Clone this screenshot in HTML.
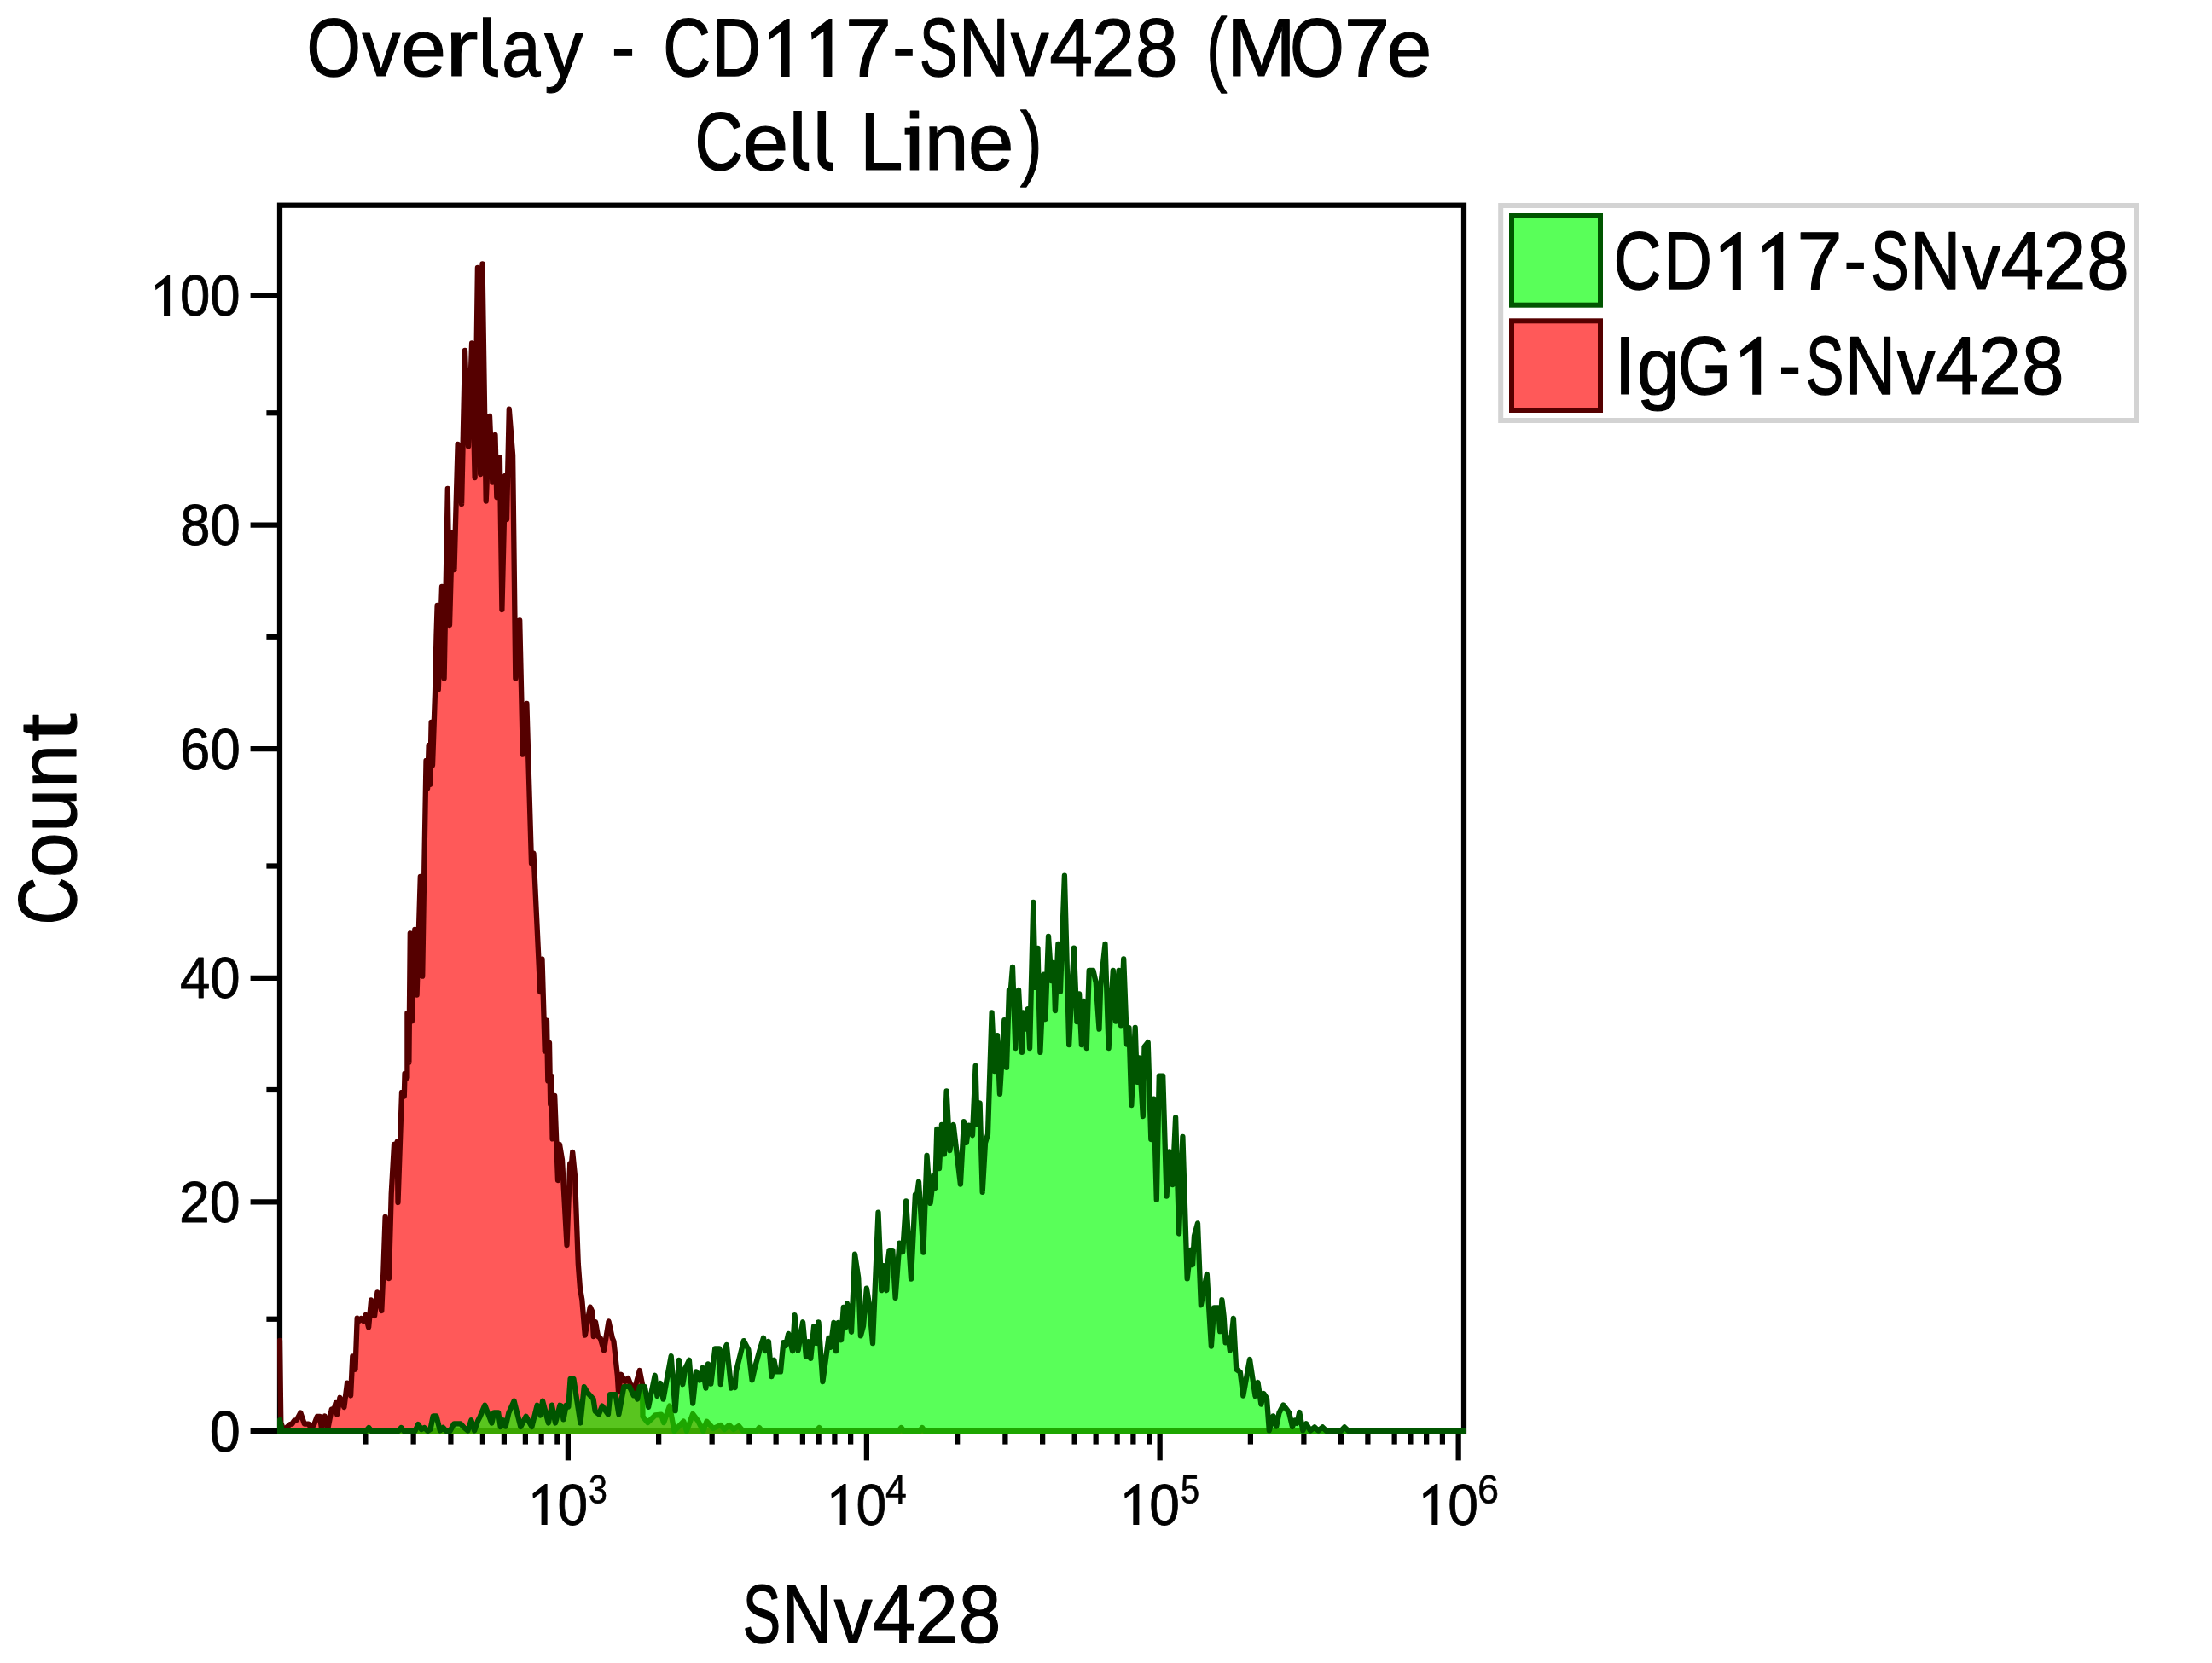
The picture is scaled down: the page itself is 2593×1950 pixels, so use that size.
<!DOCTYPE html>
<html><head><meta charset="utf-8"><title>Overlay - CD117-SNv428 (MO7e Cell Line)</title>
<style>
html,body{margin:0;padding:0;background:#fff;}
body{width:2593px;height:1950px;overflow:hidden;}
svg{display:block;}
text{font-family:"Liberation Sans",sans-serif;fill:#000;}
</style></head><body>
<svg width="2593" height="1950" viewBox="0 0 2593 1950">
<desc>Overlay - CD117-SNv428 (MO7e Cell Line). Histogram of Count versus SNv428 (log scale 10^3 to 10^6). Legend: CD117-SNv428 (green), IgG1-SNv428 (red).</desc>
<rect x="0" y="0" width="2593" height="1950" fill="#fff"/>
<defs><clipPath id="c"><rect x="324.9" y="237.6" width="1394.2" height="1443.5"/></clipPath></defs>
<g opacity="0.999">
<text font-size="97.1" transform="translate(359.52,89.40) scale(0.8408,1)" stroke="#000" stroke-width="1.2" vector-effect="non-scaling-stroke" stroke-linejoin="round">O</text>
<text font-size="94" transform="translate(424.46,89.40) scale(0.9570,1)" stroke="#000" stroke-width="1.2" vector-effect="non-scaling-stroke" stroke-linejoin="round">v</text>
<text font-size="94" transform="translate(469.61,89.40) scale(1.0237,1)" stroke="#000" stroke-width="1.2" vector-effect="non-scaling-stroke" stroke-linejoin="round">e</text>
<text font-size="94" transform="translate(521.63,89.40) scale(1.2426,1)" stroke="#000" stroke-width="1.2" vector-effect="non-scaling-stroke" stroke-linejoin="round">r</text>
<text font-size="94" transform="translate(588.13,89.40) scale(0.8663,1)" stroke="#000" stroke-width="1.2" vector-effect="non-scaling-stroke" stroke-linejoin="round">a</text>
<text font-size="94" transform="translate(638.36,89.40) scale(0.9613,1)" stroke="#000" stroke-width="1.2" vector-effect="non-scaling-stroke" stroke-linejoin="round">y</text>
<path d="M570.60,20.20 V74.00 Q570.60,85.80 583.90,85.80" fill="none" stroke="#000" stroke-width="9.20"/>
<rect x="719.90" y="57.80" width="21.20" height="8" fill="#000"/>
<text font-size="97.1" transform="translate(777.22,89.40) scale(0.7967,1)" stroke="#000" stroke-width="1.2" vector-effect="non-scaling-stroke" stroke-linejoin="round">C</text>
<text font-size="97.1" transform="translate(835.10,89.40) scale(0.8122,1)" stroke="#000" stroke-width="1.2" vector-effect="non-scaling-stroke" stroke-linejoin="round">D</text>
<text font-size="97.1" transform="translate(990.77,89.40) scale(1.0068,1)" stroke="#000" stroke-width="1.2" vector-effect="non-scaling-stroke" stroke-linejoin="round">7</text>
<polygon points="925.61,22.00 921.94,22.00 901.20,38.32 901.88,46.68 915.62,36.69 915.62,90.00 925.61,90.00" fill="#000"/>
<polygon points="975.41,22.00 971.74,22.00 951.00,38.32 951.68,46.68 965.42,36.69 965.42,90.00 975.41,90.00" fill="#000"/>
<rect x="1049.30" y="57.80" width="20.50" height="8" fill="#000"/>
<text font-size="97.1" transform="translate(1078.02,89.40) scale(0.6852,1)" stroke="#000" stroke-width="1.2" vector-effect="non-scaling-stroke" stroke-linejoin="round">S</text>
<text font-size="97.1" transform="translate(1123.80,89.40) scale(0.8498,1)" stroke="#000" stroke-width="1.2" vector-effect="non-scaling-stroke" stroke-linejoin="round">N</text>
<text font-size="94" transform="translate(1184.86,89.40) scale(0.9527,1)" stroke="#000" stroke-width="1.2" vector-effect="non-scaling-stroke" stroke-linejoin="round">v</text>
<text font-size="97.1" transform="translate(1230.28,89.40) scale(0.9408,1)" stroke="#000" stroke-width="1.2" vector-effect="non-scaling-stroke" stroke-linejoin="round">4</text>
<text font-size="97.1" transform="translate(1279.76,89.40) scale(0.9356,1)" stroke="#000" stroke-width="1.2" vector-effect="non-scaling-stroke" stroke-linejoin="round">2</text>
<text font-size="97.1" transform="translate(1331.00,89.40) scale(0.9187,1)" stroke="#000" stroke-width="1.2" vector-effect="non-scaling-stroke" stroke-linejoin="round">8</text>
<text font-size="97.1" transform="translate(1414.13,89.40) scale(0.7456,1)" stroke="#000" stroke-width="1.2" vector-effect="non-scaling-stroke" stroke-linejoin="round">(</text>
<text font-size="97.1" transform="translate(1437.74,89.40) scale(1.0069,1)" stroke="#000" stroke-width="1.2" vector-effect="non-scaling-stroke" stroke-linejoin="round">M</text>
<text font-size="97.1" transform="translate(1512.10,89.40) scale(0.8453,1)" stroke="#000" stroke-width="1.2" vector-effect="non-scaling-stroke" stroke-linejoin="round">O</text>
<text font-size="97.1" transform="translate(1575.65,89.40) scale(0.9909,1)" stroke="#000" stroke-width="1.2" vector-effect="non-scaling-stroke" stroke-linejoin="round">7</text>
<text font-size="94" transform="translate(1625.55,89.40) scale(1.0124,1)" stroke="#000" stroke-width="1.2" vector-effect="non-scaling-stroke" stroke-linejoin="round">e</text>
<text font-size="97.1" transform="translate(814.46,199.30) scale(0.8082,1)" stroke="#000" stroke-width="1.2" vector-effect="non-scaling-stroke" stroke-linejoin="round">C</text>
<text font-size="94" transform="translate(870.49,199.30) scale(1.0282,1)" stroke="#000" stroke-width="1.2" vector-effect="non-scaling-stroke" stroke-linejoin="round">e</text>
<text font-size="97.1" transform="translate(1007.91,199.30) scale(0.9357,1)" stroke="#000" stroke-width="1.2" vector-effect="non-scaling-stroke" stroke-linejoin="round">L</text>
<text font-size="94" transform="translate(1060.15,199.30) scale(1.1273,1)" stroke="#000" stroke-width="1.2" vector-effect="non-scaling-stroke" stroke-linejoin="round">i</text>
<text font-size="94" transform="translate(1083.81,199.30) scale(0.9900,1)" stroke="#000" stroke-width="1.2" vector-effect="non-scaling-stroke" stroke-linejoin="round">n</text>
<text font-size="94" transform="translate(1134.69,199.30) scale(1.0282,1)" stroke="#000" stroke-width="1.2" vector-effect="non-scaling-stroke" stroke-linejoin="round">e</text>
<text font-size="97.1" transform="translate(1195.91,199.30) scale(0.7922,1)" stroke="#000" stroke-width="1.2" vector-effect="non-scaling-stroke" stroke-linejoin="round">)</text>
<path d="M935.05,130.10 V183.90 Q935.05,195.55 948.20,195.55" fill="none" stroke="#000" stroke-width="9.50"/>
<path d="M963.30,130.10 V183.90 Q963.30,195.50 976.00,195.50" fill="none" stroke="#000" stroke-width="9.60"/>
<rect x="1060.6" y="149.70" width="7" height="8" fill="#000"/>
<text font-size="97.1" transform="translate(870.82,1926.20) scale(0.6852,1)" stroke="#000" stroke-width="1.2" vector-effect="non-scaling-stroke" stroke-linejoin="round">S</text>
<text font-size="97.1" transform="translate(916.60,1926.20) scale(0.8498,1)" stroke="#000" stroke-width="1.2" vector-effect="non-scaling-stroke" stroke-linejoin="round">N</text>
<text font-size="94" transform="translate(977.66,1926.20) scale(0.9527,1)" stroke="#000" stroke-width="1.2" vector-effect="non-scaling-stroke" stroke-linejoin="round">v</text>
<text font-size="97.1" transform="translate(1023.08,1926.20) scale(0.9408,1)" stroke="#000" stroke-width="1.2" vector-effect="non-scaling-stroke" stroke-linejoin="round">4</text>
<text font-size="97.1" transform="translate(1072.56,1926.20) scale(0.9356,1)" stroke="#000" stroke-width="1.2" vector-effect="non-scaling-stroke" stroke-linejoin="round">2</text>
<text font-size="97.1" transform="translate(1123.80,1926.20) scale(0.9187,1)" stroke="#000" stroke-width="1.2" vector-effect="non-scaling-stroke" stroke-linejoin="round">8</text>
<text font-size="97.1" transform="translate(88.80,1081.20) rotate(-90) translate(-3.38,0) scale(0.7967,1)" stroke="#000" stroke-width="1.2" vector-effect="non-scaling-stroke" stroke-linejoin="round">C</text>
<text font-size="94" transform="translate(88.80,1081.20) rotate(-90) translate(52.02,0) scale(1.0192,1)" stroke="#000" stroke-width="1.2" vector-effect="non-scaling-stroke" stroke-linejoin="round">o</text>
<text font-size="94" transform="translate(88.80,1081.20) rotate(-90) translate(105.12,0) scale(0.9800,1)" stroke="#000" stroke-width="1.2" vector-effect="non-scaling-stroke" stroke-linejoin="round">u</text>
<text font-size="94" transform="translate(88.80,1081.20) rotate(-90) translate(157.51,0) scale(0.9750,1)" stroke="#000" stroke-width="1.2" vector-effect="non-scaling-stroke" stroke-linejoin="round">n</text>
<text font-size="94" transform="translate(88.80,1081.20) rotate(-90) translate(211.17,0) scale(1.2875,1)" stroke="#000" stroke-width="1.2" vector-effect="non-scaling-stroke" stroke-linejoin="round">t</text>
</g>
<rect x="328" y="240.7" width="1388" height="1437.3" fill="none" stroke="#000" stroke-width="6.25"/>
<g stroke="#000" stroke-width="6.25" fill="none">
<line x1="665.9" y1="1680" x2="665.9" y2="1712.4"/><line x1="1015.9" y1="1680" x2="1015.9" y2="1712.4"/><line x1="1359.65" y1="1680" x2="1359.65" y2="1712.4"/><line x1="1709.65" y1="1680" x2="1709.65" y2="1712.4"/><line x1="428.4" y1="1680" x2="428.4" y2="1693.6"/><line x1="484.65" y1="1680" x2="484.65" y2="1693.6"/><line x1="528.4" y1="1680" x2="528.4" y2="1693.6"/><line x1="565.9" y1="1680" x2="565.9" y2="1693.6"/><line x1="590.9" y1="1680" x2="590.9" y2="1693.6"/><line x1="615.9" y1="1680" x2="615.9" y2="1693.6"/><line x1="634.65" y1="1680" x2="634.65" y2="1693.6"/><line x1="653.4" y1="1680" x2="653.4" y2="1693.6"/><line x1="772.15" y1="1680" x2="772.15" y2="1693.6"/><line x1="834.65" y1="1680" x2="834.65" y2="1693.6"/><line x1="878.4" y1="1680" x2="878.4" y2="1693.6"/><line x1="909.65" y1="1680" x2="909.65" y2="1693.6"/><line x1="940.9" y1="1680" x2="940.9" y2="1693.6"/><line x1="959.65" y1="1680" x2="959.65" y2="1693.6"/><line x1="978.4" y1="1680" x2="978.4" y2="1693.6"/><line x1="997.15" y1="1680" x2="997.15" y2="1693.6"/><line x1="1122.15" y1="1680" x2="1122.15" y2="1693.6"/><line x1="1178.4" y1="1680" x2="1178.4" y2="1693.6"/><line x1="1222.15" y1="1680" x2="1222.15" y2="1693.6"/><line x1="1259.65" y1="1680" x2="1259.65" y2="1693.6"/><line x1="1284.65" y1="1680" x2="1284.65" y2="1693.6"/><line x1="1309.65" y1="1680" x2="1309.65" y2="1693.6"/><line x1="1328.4" y1="1680" x2="1328.4" y2="1693.6"/><line x1="1347.15" y1="1680" x2="1347.15" y2="1693.6"/><line x1="1465.9" y1="1680" x2="1465.9" y2="1693.6"/><line x1="1528.4" y1="1680" x2="1528.4" y2="1693.6"/><line x1="1572.15" y1="1680" x2="1572.15" y2="1693.6"/><line x1="1603.4" y1="1680" x2="1603.4" y2="1693.6"/><line x1="1634.65" y1="1680" x2="1634.65" y2="1693.6"/><line x1="1653.4" y1="1680" x2="1653.4" y2="1693.6"/><line x1="1672.15" y1="1680" x2="1672.15" y2="1693.6"/><line x1="1690.9" y1="1680" x2="1690.9" y2="1693.6"/><line x1="293.6" y1="1678" x2="326" y2="1678"/><line x1="293.6" y1="1409.25" x2="326" y2="1409.25"/><line x1="293.6" y1="1146.75" x2="326" y2="1146.75"/><line x1="293.6" y1="878" x2="326" y2="878"/><line x1="293.6" y1="615.5" x2="326" y2="615.5"/><line x1="293.6" y1="346.75" x2="326" y2="346.75"/><line x1="312.4" y1="1546.75" x2="326" y2="1546.75"/><line x1="312.4" y1="1278" x2="326" y2="1278"/><line x1="312.4" y1="1015.5" x2="326" y2="1015.5"/><line x1="312.4" y1="746.75" x2="326" y2="746.75"/><line x1="312.4" y1="484.25" x2="326" y2="484.25"/>
</g>
<g opacity="0.999">
<text font-size="69" transform="translate(245.82,1701.60) scale(0.9394,1)" stroke="#000" stroke-width="0.8" vector-effect="non-scaling-stroke" stroke-linejoin="round">0</text>
<text font-size="69" transform="translate(209.93,1432.85) scale(0.9357,1)" stroke="#000" stroke-width="0.8" vector-effect="non-scaling-stroke" stroke-linejoin="round">20</text>
<text font-size="69" transform="translate(211.02,1170.35) scale(0.9210,1)" stroke="#000" stroke-width="0.8" vector-effect="non-scaling-stroke" stroke-linejoin="round">40</text>
<text font-size="69" transform="translate(211.08,901.60) scale(0.9201,1)" stroke="#000" stroke-width="0.8" vector-effect="non-scaling-stroke" stroke-linejoin="round">60</text>
<text font-size="69" transform="translate(211.14,639.10) scale(0.9193,1)" stroke="#000" stroke-width="0.8" vector-effect="non-scaling-stroke" stroke-linejoin="round">80</text>
<polygon points="199.13,322.75 196.54,322.75 181.90,334.27 182.38,340.17 192.08,333.12 192.08,370.75 199.13,370.75" fill="#000"/>
<text font-size="69" transform="translate(210.97,370.35) scale(0.9217,1)" stroke="#000" stroke-width="0.8" vector-effect="non-scaling-stroke" stroke-linejoin="round">00</text>
<polygon points="641.63,1739.90 639.04,1739.90 624.40,1751.42 624.88,1757.32 634.58,1750.27 634.58,1787.90 641.63,1787.90" fill="#000"/>
<text font-size="69" transform="translate(653.44,1787.50) scale(0.9303,1)" stroke="#000" stroke-width="0.8" vector-effect="non-scaling-stroke" stroke-linejoin="round">0</text>
<text font-size="48.8" transform="translate(689.89,1762.50) scale(0.8043,1)" stroke="#000" stroke-width="0.6" vector-effect="non-scaling-stroke" stroke-linejoin="round">3</text>
<polygon points="991.63,1739.90 989.04,1739.90 974.40,1751.42 974.88,1757.32 984.58,1750.27 984.58,1787.90 991.63,1787.90" fill="#000"/>
<text font-size="69" transform="translate(1003.44,1787.50) scale(0.9303,1)" stroke="#000" stroke-width="0.8" vector-effect="non-scaling-stroke" stroke-linejoin="round">0</text>
<text font-size="48.8" transform="translate(1038.09,1762.50) scale(0.9131,1)" stroke="#000" stroke-width="0.6" vector-effect="non-scaling-stroke" stroke-linejoin="round">4</text>
<polygon points="1335.38,1739.90 1332.79,1739.90 1318.15,1751.42 1318.63,1757.32 1328.33,1750.27 1328.33,1787.90 1335.38,1787.90" fill="#000"/>
<text font-size="69" transform="translate(1347.19,1787.50) scale(0.9303,1)" stroke="#000" stroke-width="0.8" vector-effect="non-scaling-stroke" stroke-linejoin="round">0</text>
<text font-size="48.8" transform="translate(1384.02,1762.50) scale(0.8130,1)" stroke="#000" stroke-width="0.6" vector-effect="non-scaling-stroke" stroke-linejoin="round">5</text>
<polygon points="1685.38,1739.90 1682.79,1739.90 1668.15,1751.42 1668.63,1757.32 1678.33,1750.27 1678.33,1787.90 1685.38,1787.90" fill="#000"/>
<text font-size="69" transform="translate(1697.19,1787.50) scale(0.9303,1)" stroke="#000" stroke-width="0.8" vector-effect="non-scaling-stroke" stroke-linejoin="round">0</text>
<text font-size="48.8" transform="translate(1732.37,1762.50) scale(0.9111,1)" stroke="#000" stroke-width="0.6" vector-effect="non-scaling-stroke" stroke-linejoin="round">6</text>
</g>
<g clip-path="url(#c)">
<polygon points="328,1700 328,1572 329.3,1668 332.2,1676.5 335.6,1674 340.1,1670 342.3,1669.6 345.1,1665.5 347.8,1665 352.3,1656.5 356.8,1669.6 361.8,1669.6 364.9,1675 368.1,1670.5 371.7,1661 375,1661 377,1675 380.8,1660.5 384.4,1675 388.8,1652.4 391.6,1652.4 393.6,1645 395.2,1658.6 398.4,1638.8 403.4,1650 407,1621.7 411.1,1636.5 413.3,1590.5 416.5,1605.7 418.7,1545.7 421,1549 423.4,1546 426,1549 428.6,1542 432.1,1556.5 435.1,1524.5 439.1,1543 442.4,1515.3 447.3,1537 449.3,1493 451.6,1427 455.9,1499 458.7,1400 462,1342 464,1346 465.7,1338.5 466.5,1410 471,1281 473.8,1285.5 474.5,1259 477.4,1263.8 477.4,1188 479.4,1245.7 480.8,1094.3 482.8,1197.3 486.3,1089.8 488.6,1166.7 492.8,1027.8 495.2,1144.6 497.6,1000 499.5,892 501.1,924.5 502.6,874 504.1,920 505.6,847 507,897.5 510,812 511.5,745 512.6,710 513.8,808.6 518,688 520.6,795.5 524.8,573 527,733 530,625 532.5,668 536.6,521 541.1,591 545,411 549,523.5 553.1,402.5 556.6,560 559.9,314 563.2,556 565.5,309.5 569.7,587.5 574,488 577.3,565.5 580.5,510 582.3,583 585.9,536.5 588.4,715 592.2,558 594,609 596.8,479.7 601.1,533.7 604.3,795.4 609.2,727.3 612.8,884.6 617.4,825 623,1012.3 625.5,1000.6 633.2,1163 635.5,1124.6 638.7,1232.7 641,1196.7 642.3,1267.4 644,1222.8 645.2,1294.9 646.4,1262 647.6,1335.4 650.2,1285 654,1384 656,1342 659,1360 664.5,1460 668.2,1364.5 669.6,1369 671.2,1351 674,1379 677.8,1482 679.9,1510 682.3,1524 685.8,1565.7 691.8,1532.6 694.3,1538 695.8,1567 698,1550 701,1567 703.7,1569 708,1583.6 713.5,1549.4 717.8,1569 719.4,1572.7 723.8,1612.6 725,1632 728.1,1611.8 732.5,1620 736.3,1616 742.5,1632 746,1621 749.8,1607 753,1623 753.5,1661 759.3,1668 768,1659.4 775.2,1658.7 778.1,1668 785,1648.6 790.4,1678 801.3,1666.7 804.9,1678 812.1,1658 818.6,1666.7 824.4,1678 828.4,1666.7 836,1675 844.7,1671 849,1676 854.8,1671 860,1676 866,1672 871,1678 887,1678 890,1674 893,1678 957,1678 960.3,1674 963.5,1678 1053.5,1678 1056.5,1674 1059.5,1678 1078,1678 1081.1,1674 1084,1678 1716,1678 1716,1700" fill="rgb(255,0,0)" fill-opacity="0.65"/>
<polyline points="328,1572 329.3,1668 332.2,1676.5 335.6,1674 340.1,1670 342.3,1669.6 345.1,1665.5 347.8,1665 352.3,1656.5 356.8,1669.6 361.8,1669.6 364.9,1675 368.1,1670.5 371.7,1661 375,1661 377,1675 380.8,1660.5 384.4,1675 388.8,1652.4 391.6,1652.4 393.6,1645 395.2,1658.6 398.4,1638.8 403.4,1650 407,1621.7 411.1,1636.5 413.3,1590.5 416.5,1605.7 418.7,1545.7 421,1549 423.4,1546 426,1549 428.6,1542 432.1,1556.5 435.1,1524.5 439.1,1543 442.4,1515.3 447.3,1537 449.3,1493 451.6,1427 455.9,1499 458.7,1400 462,1342 464,1346 465.7,1338.5 466.5,1410 471,1281 473.8,1285.5 474.5,1259 477.4,1263.8 477.4,1188 479.4,1245.7 480.8,1094.3 482.8,1197.3 486.3,1089.8 488.6,1166.7 492.8,1027.8 495.2,1144.6 497.6,1000 499.5,892 501.1,924.5 502.6,874 504.1,920 505.6,847 507,897.5 510,812 511.5,745 512.6,710 513.8,808.6 518,688 520.6,795.5 524.8,573 527,733 530,625 532.5,668 536.6,521 541.1,591 545,411 549,523.5 553.1,402.5 556.6,560 559.9,314 563.2,556 565.5,309.5 569.7,587.5 574,488 577.3,565.5 580.5,510 582.3,583 585.9,536.5 588.4,715 592.2,558 594,609 596.8,479.7 601.1,533.7 604.3,795.4 609.2,727.3 612.8,884.6 617.4,825 623,1012.3 625.5,1000.6 633.2,1163 635.5,1124.6 638.7,1232.7 641,1196.7 642.3,1267.4 644,1222.8 645.2,1294.9 646.4,1262 647.6,1335.4 650.2,1285 654,1384 656,1342 659,1360 664.5,1460 668.2,1364.5 669.6,1369 671.2,1351 674,1379 677.8,1482 679.9,1510 682.3,1524 685.8,1565.7 691.8,1532.6 694.3,1538 695.8,1567 698,1550 701,1567 703.7,1569 708,1583.6 713.5,1549.4 717.8,1569 719.4,1572.7 723.8,1612.6 725,1632 728.1,1611.8 732.5,1620 736.3,1616 742.5,1632 746,1621 749.8,1607 753,1623 753.5,1661 759.3,1668 768,1659.4 775.2,1658.7 778.1,1668 785,1648.6 790.4,1678 801.3,1666.7 804.9,1678 812.1,1658 818.6,1666.7 824.4,1678 828.4,1666.7 836,1675 844.7,1671 849,1676 854.8,1671 860,1676 866,1672 871,1678 887,1678 890,1674 893,1678 957,1678 960.3,1674 963.5,1678 1053.5,1678 1056.5,1674 1059.5,1678 1078,1678 1081.1,1674 1084,1678 1716,1678" fill="none" stroke="#550000" stroke-width="6.3" stroke-linejoin="round" stroke-linecap="round"/>
<polygon points="328,1700 328,1665 330.7,1678 429,1678 432.3,1674 435.5,1678 467,1678 470.3,1674 473.5,1678 486.5,1678 490.2,1670 494,1676 497.4,1674 501.5,1678 504.5,1676 507.7,1660.4 511.5,1660.4 515.8,1677.5 519.4,1673.9 523,1678 527.5,1678 532.1,1669.4 539.8,1669.4 543.9,1673.9 548.4,1677.5 552.4,1665.3 556.1,1677.5 560.1,1666.2 562.8,1660.8 568.3,1647.7 576.4,1668.5 579.1,1656.3 584.1,1656.3 586.8,1673 590,1665.3 592.7,1672.6 596.3,1656.7 602.6,1642.7 610.3,1673 616.6,1660.8 623.4,1673 629.7,1647.7 633.4,1659.5 636.1,1642.7 642.9,1668.5 646.9,1647.7 651,1668.5 656.4,1647.7 658.5,1649 660.5,1664.4 663.7,1647.7 666.3,1649.5 668.6,1616.8 672.4,1616.8 680.4,1668.5 684.8,1626.2 688.7,1633 695.5,1640.3 697.7,1654.7 702.1,1658.2 705.9,1648.6 712.9,1658.5 715.1,1635.1 721.6,1635.1 725.4,1658.5 731.4,1625.8 737.9,1625.8 742.8,1636.3 745,1634 747.1,1640.6 749.8,1625.8 755.8,1625.8 760.1,1649.8 767.7,1612.8 770.4,1636.8 774.2,1622 777.5,1640.6 786.7,1590 791.6,1654.2 795.9,1594.9 800.3,1623.2 803.5,1604.1 807.9,1594.9 812.2,1645.5 816,1608.5 820.3,1618.4 823.6,1603.6 827.4,1627.6 830.1,1599.3 833.4,1622.7 838.2,1581.4 843.1,1581.4 844.7,1623.2 848.5,1585 851.8,1577 857.2,1627.6 859.4,1621 861.6,1627 862.9,1607.9 871.9,1572.1 877.3,1582.4 881.6,1618.4 884.9,1603.6 890,1585 895,1568.8 897.5,1584 900.9,1573.1 904.5,1614 907.4,1594.8 909.9,1608.4 915,1608.4 918.3,1574.2 921,1578 924.2,1563.9 929.1,1584.2 931.6,1542.2 935.6,1583.6 941.1,1550.3 944.9,1590.7 947.6,1573.1 950.3,1592.9 954.1,1555.2 957.3,1575 959.5,1550.3 964.4,1620 971.4,1568.8 973.6,1579.8 977.4,1550.9 980.1,1584.2 982.8,1550.9 986.1,1571.2 988.8,1533 991,1557 993.1,1528.6 998,1561.9 1002.1,1470.6 1006.2,1498.2 1008.9,1566.3 1012,1555 1015.9,1510.7 1019,1530 1023,1575 1029.5,1421.6 1033.3,1513.1 1036,1484.1 1039.3,1513.1 1041,1478 1042.5,1466.2 1046.3,1466.2 1049.6,1521.8 1054.4,1457.6 1058.2,1468.1 1062.1,1408.5 1068,1499.5 1072.9,1400.9 1074.5,1405 1077,1385.7 1082.4,1468.6 1086.5,1354.8 1090.6,1410.9 1094.5,1378 1096.3,1393 1098.3,1323.9 1101,1370 1103.9,1319 1106.9,1353.4 1109.6,1279.4 1113.4,1349.1 1117.7,1319 1125.9,1388.7 1129.9,1315.2 1132.9,1339.9 1135.6,1319.6 1140,1331.2 1143.6,1249.9 1145.4,1318.2 1148.6,1293.5 1151.7,1397.9 1155,1340 1158,1330 1162.6,1187.5 1165.9,1256.1 1169.1,1214.1 1172,1282.9 1177.3,1196.2 1180,1251.8 1182.9,1161 1184.5,1165 1187,1134 1190.3,1229 1194.1,1161 1197.9,1233.9 1199.5,1187.5 1202.2,1206.6 1204.9,1183.2 1207.1,1229 1211.3,1057.9 1213.6,1157.9 1216.5,1112 1219.4,1233.9 1223.4,1142.6 1225.5,1195 1229,1098 1232.5,1150 1235.2,1129 1236.9,1185 1240.4,1107 1242.9,1162.8 1247.9,1026.7 1253.2,1225.2 1258.9,1111.6 1262.4,1198.1 1265.1,1165.3 1267.9,1225.2 1270.5,1174 1273.8,1229 1276.7,1138 1281.5,1138 1284.7,1152.3 1288.5,1206.7 1290.1,1157.2 1295.5,1107 1299.6,1229 1304.8,1138 1308,1197.5 1311.6,1138 1314,1202.4 1317.2,1124.5 1321,1224.6 1323.5,1205 1326.3,1296 1330.7,1204.8 1332.8,1268.8 1335.8,1240.4 1339.8,1309 1341.5,1227.4 1345.7,1222.2 1349.3,1336 1352.5,1288.7 1355.8,1406.9 1358.8,1261.6 1363.2,1261.6 1367.5,1402.6 1371,1350.3 1374.5,1389 1378.1,1310.4 1382.1,1446.5 1386.4,1332.8 1391.7,1499.4 1395.5,1466 1398.1,1483 1400,1449 1404,1434.4 1407.8,1530.3 1414.8,1494 1419.9,1578.6 1423.2,1533.4 1428,1533.4 1430.2,1561.2 1432.4,1524.1 1434.6,1543 1436.6,1574.3 1439.8,1568.6 1441.8,1583.5 1445.9,1545.8 1449.2,1605.7 1453.8,1608.8 1457.3,1636.6 1465,1594 1471.5,1637 1474.5,1621 1478.4,1646.6 1481.3,1634 1485,1639.6 1487.8,1677.3 1492.5,1660.4 1496.2,1672.6 1499.4,1656.8 1504.3,1647.5 1508.3,1652.4 1511.2,1656.8 1515,1673 1517.9,1665.4 1520.4,1668.8 1523.3,1656 1527.3,1677.3 1531.2,1669.4 1536,1677.5 1541,1673.4 1545.4,1677.5 1550.4,1673.4 1555,1678 1571.8,1678 1576.1,1673.4 1580.8,1678 1716,1678 1716,1700" fill="rgb(0,255,0)" fill-opacity="0.65"/>
<polyline points="328,1665 330.7,1678 429,1678 432.3,1674 435.5,1678 467,1678 470.3,1674 473.5,1678 486.5,1678 490.2,1670 494,1676 497.4,1674 501.5,1678 504.5,1676 507.7,1660.4 511.5,1660.4 515.8,1677.5 519.4,1673.9 523,1678 527.5,1678 532.1,1669.4 539.8,1669.4 543.9,1673.9 548.4,1677.5 552.4,1665.3 556.1,1677.5 560.1,1666.2 562.8,1660.8 568.3,1647.7 576.4,1668.5 579.1,1656.3 584.1,1656.3 586.8,1673 590,1665.3 592.7,1672.6 596.3,1656.7 602.6,1642.7 610.3,1673 616.6,1660.8 623.4,1673 629.7,1647.7 633.4,1659.5 636.1,1642.7 642.9,1668.5 646.9,1647.7 651,1668.5 656.4,1647.7 658.5,1649 660.5,1664.4 663.7,1647.7 666.3,1649.5 668.6,1616.8 672.4,1616.8 680.4,1668.5 684.8,1626.2 688.7,1633 695.5,1640.3 697.7,1654.7 702.1,1658.2 705.9,1648.6 712.9,1658.5 715.1,1635.1 721.6,1635.1 725.4,1658.5 731.4,1625.8 737.9,1625.8 742.8,1636.3 745,1634 747.1,1640.6 749.8,1625.8 755.8,1625.8 760.1,1649.8 767.7,1612.8 770.4,1636.8 774.2,1622 777.5,1640.6 786.7,1590 791.6,1654.2 795.9,1594.9 800.3,1623.2 803.5,1604.1 807.9,1594.9 812.2,1645.5 816,1608.5 820.3,1618.4 823.6,1603.6 827.4,1627.6 830.1,1599.3 833.4,1622.7 838.2,1581.4 843.1,1581.4 844.7,1623.2 848.5,1585 851.8,1577 857.2,1627.6 859.4,1621 861.6,1627 862.9,1607.9 871.9,1572.1 877.3,1582.4 881.6,1618.4 884.9,1603.6 890,1585 895,1568.8 897.5,1584 900.9,1573.1 904.5,1614 907.4,1594.8 909.9,1608.4 915,1608.4 918.3,1574.2 921,1578 924.2,1563.9 929.1,1584.2 931.6,1542.2 935.6,1583.6 941.1,1550.3 944.9,1590.7 947.6,1573.1 950.3,1592.9 954.1,1555.2 957.3,1575 959.5,1550.3 964.4,1620 971.4,1568.8 973.6,1579.8 977.4,1550.9 980.1,1584.2 982.8,1550.9 986.1,1571.2 988.8,1533 991,1557 993.1,1528.6 998,1561.9 1002.1,1470.6 1006.2,1498.2 1008.9,1566.3 1012,1555 1015.9,1510.7 1019,1530 1023,1575 1029.5,1421.6 1033.3,1513.1 1036,1484.1 1039.3,1513.1 1041,1478 1042.5,1466.2 1046.3,1466.2 1049.6,1521.8 1054.4,1457.6 1058.2,1468.1 1062.1,1408.5 1068,1499.5 1072.9,1400.9 1074.5,1405 1077,1385.7 1082.4,1468.6 1086.5,1354.8 1090.6,1410.9 1094.5,1378 1096.3,1393 1098.3,1323.9 1101,1370 1103.9,1319 1106.9,1353.4 1109.6,1279.4 1113.4,1349.1 1117.7,1319 1125.9,1388.7 1129.9,1315.2 1132.9,1339.9 1135.6,1319.6 1140,1331.2 1143.6,1249.9 1145.4,1318.2 1148.6,1293.5 1151.7,1397.9 1155,1340 1158,1330 1162.6,1187.5 1165.9,1256.1 1169.1,1214.1 1172,1282.9 1177.3,1196.2 1180,1251.8 1182.9,1161 1184.5,1165 1187,1134 1190.3,1229 1194.1,1161 1197.9,1233.9 1199.5,1187.5 1202.2,1206.6 1204.9,1183.2 1207.1,1229 1211.3,1057.9 1213.6,1157.9 1216.5,1112 1219.4,1233.9 1223.4,1142.6 1225.5,1195 1229,1098 1232.5,1150 1235.2,1129 1236.9,1185 1240.4,1107 1242.9,1162.8 1247.9,1026.7 1253.2,1225.2 1258.9,1111.6 1262.4,1198.1 1265.1,1165.3 1267.9,1225.2 1270.5,1174 1273.8,1229 1276.7,1138 1281.5,1138 1284.7,1152.3 1288.5,1206.7 1290.1,1157.2 1295.5,1107 1299.6,1229 1304.8,1138 1308,1197.5 1311.6,1138 1314,1202.4 1317.2,1124.5 1321,1224.6 1323.5,1205 1326.3,1296 1330.7,1204.8 1332.8,1268.8 1335.8,1240.4 1339.8,1309 1341.5,1227.4 1345.7,1222.2 1349.3,1336 1352.5,1288.7 1355.8,1406.9 1358.8,1261.6 1363.2,1261.6 1367.5,1402.6 1371,1350.3 1374.5,1389 1378.1,1310.4 1382.1,1446.5 1386.4,1332.8 1391.7,1499.4 1395.5,1466 1398.1,1483 1400,1449 1404,1434.4 1407.8,1530.3 1414.8,1494 1419.9,1578.6 1423.2,1533.4 1428,1533.4 1430.2,1561.2 1432.4,1524.1 1434.6,1543 1436.6,1574.3 1439.8,1568.6 1441.8,1583.5 1445.9,1545.8 1449.2,1605.7 1453.8,1608.8 1457.3,1636.6 1465,1594 1471.5,1637 1474.5,1621 1478.4,1646.6 1481.3,1634 1485,1639.6 1487.8,1677.3 1492.5,1660.4 1496.2,1672.6 1499.4,1656.8 1504.3,1647.5 1508.3,1652.4 1511.2,1656.8 1515,1673 1517.9,1665.4 1520.4,1668.8 1523.3,1656 1527.3,1677.3 1531.2,1669.4 1536,1677.5 1541,1673.4 1545.4,1677.5 1550.4,1673.4 1555,1678 1571.8,1678 1576.1,1673.4 1580.8,1678 1716,1678" fill="none" stroke="#005500" stroke-width="6.3" stroke-linejoin="round" stroke-linecap="round"/>
<rect x="324.9" y="1666" width="6.2" height="15.1" fill="#005500"/>
</g>
<rect x="1759.2" y="241" width="745.6" height="252" fill="#fff" stroke="#d3d3d3" stroke-width="6"/>
<rect x="1772" y="253" width="104" height="104.7" fill="#59ff59" stroke="#005500" stroke-width="6"/>
<rect x="1772" y="376.3" width="104" height="104.7" fill="#ff5959" stroke="#550000" stroke-width="6"/>
<g opacity="0.999">
<text font-size="97.1" transform="translate(1891.40,339.40) scale(0.8000,1)" stroke="#000" stroke-width="1.2" vector-effect="non-scaling-stroke" stroke-linejoin="round">C</text>
<text font-size="97.1" transform="translate(1949.99,339.40) scale(0.8139,1)" stroke="#000" stroke-width="1.2" vector-effect="non-scaling-stroke" stroke-linejoin="round">D</text>
<text font-size="97.1" transform="translate(2106.35,339.40) scale(0.9909,1)" stroke="#000" stroke-width="1.2" vector-effect="non-scaling-stroke" stroke-linejoin="round">7</text>
<polygon points="2040.81,272.00 2037.14,272.00 2016.40,288.32 2017.08,296.68 2030.82,286.69 2030.82,340.00 2040.81,340.00" fill="#000"/>
<polygon points="2090.21,272.00 2086.54,272.00 2065.80,288.32 2066.48,296.68 2080.22,286.69 2080.22,340.00 2090.21,340.00" fill="#000"/>
<rect x="2164.50" y="307.80" width="20.40" height="8" fill="#000"/>
<text font-size="97.1" transform="translate(2193.32,339.40) scale(0.6852,1)" stroke="#000" stroke-width="1.2" vector-effect="non-scaling-stroke" stroke-linejoin="round">S</text>
<text font-size="97.1" transform="translate(2239.10,339.40) scale(0.8498,1)" stroke="#000" stroke-width="1.2" vector-effect="non-scaling-stroke" stroke-linejoin="round">N</text>
<text font-size="94" transform="translate(2300.16,339.40) scale(0.9527,1)" stroke="#000" stroke-width="1.2" vector-effect="non-scaling-stroke" stroke-linejoin="round">v</text>
<text font-size="97.1" transform="translate(2345.58,339.40) scale(0.9408,1)" stroke="#000" stroke-width="1.2" vector-effect="non-scaling-stroke" stroke-linejoin="round">4</text>
<text font-size="97.1" transform="translate(2395.06,339.40) scale(0.9356,1)" stroke="#000" stroke-width="1.2" vector-effect="non-scaling-stroke" stroke-linejoin="round">2</text>
<text font-size="97.1" transform="translate(2446.30,339.40) scale(0.9187,1)" stroke="#000" stroke-width="1.2" vector-effect="non-scaling-stroke" stroke-linejoin="round">8</text>
<text font-size="97.1" transform="translate(1892.30,462.20) scale(0.9444,1)" stroke="#000" stroke-width="1.2" vector-effect="non-scaling-stroke" stroke-linejoin="round">I</text>
<text font-size="94" transform="translate(1918.65,462.20) scale(0.9633,1)" stroke="#000" stroke-width="1.2" vector-effect="non-scaling-stroke" stroke-linejoin="round">g</text>
<text font-size="97.1" transform="translate(1966.77,462.20) scale(0.8283,1)" stroke="#000" stroke-width="1.2" vector-effect="non-scaling-stroke" stroke-linejoin="round">G</text>
<polygon points="2064.21,394.80 2060.54,394.80 2039.80,411.12 2040.48,419.48 2054.22,409.49 2054.22,462.80 2064.21,462.80" fill="#000"/>
<rect x="2088.00" y="430.60" width="20.20" height="8" fill="#000"/>
<text font-size="97.1" transform="translate(2117.02,462.20) scale(0.6852,1)" stroke="#000" stroke-width="1.2" vector-effect="non-scaling-stroke" stroke-linejoin="round">S</text>
<text font-size="97.1" transform="translate(2162.80,462.20) scale(0.8498,1)" stroke="#000" stroke-width="1.2" vector-effect="non-scaling-stroke" stroke-linejoin="round">N</text>
<text font-size="94" transform="translate(2223.86,462.20) scale(0.9527,1)" stroke="#000" stroke-width="1.2" vector-effect="non-scaling-stroke" stroke-linejoin="round">v</text>
<text font-size="97.1" transform="translate(2269.28,462.20) scale(0.9408,1)" stroke="#000" stroke-width="1.2" vector-effect="non-scaling-stroke" stroke-linejoin="round">4</text>
<text font-size="97.1" transform="translate(2318.76,462.20) scale(0.9356,1)" stroke="#000" stroke-width="1.2" vector-effect="non-scaling-stroke" stroke-linejoin="round">2</text>
<text font-size="97.1" transform="translate(2370.00,462.20) scale(0.9187,1)" stroke="#000" stroke-width="1.2" vector-effect="non-scaling-stroke" stroke-linejoin="round">8</text>
</g>
</svg>
</body></html>
